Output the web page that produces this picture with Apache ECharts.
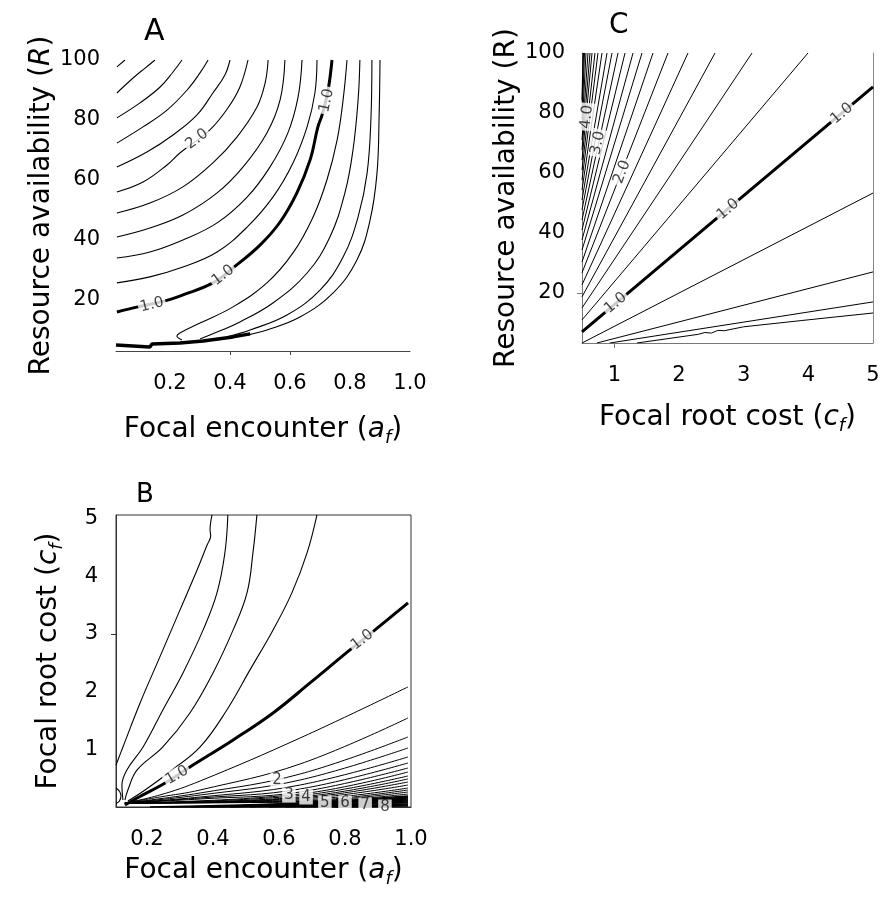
<!DOCTYPE html>
<html>
<head>
<meta charset="utf-8">
<title>Contour panels A, B, C</title>
<script src="https://cdn.jsdelivr.net/npm/echarts@6/dist/echarts.min.js"></script>
<style>
  html, body { margin: 0; padding: 0; background: #fff; }
  #chart { width: 883px; height: 901px; }
</style>
</head>
<body>
<div id="chart"></div>
<script>
// ---------- panel A : focal encounter (a_f) x resource availability (R) ----------
var aTicksX = [0.2, 0.4, 0.6, 0.8, 1.0];
var aTicksY = [20, 40, 60, 80, 100];
// contours above the 1.0 line, outermost (3.0) first
var aUpper = [
  [[0.023, 97.7], [0.05, 100]],
  [[0.023, 89], [0.077, 94], [0.117, 97.3], [0.15, 100]],
  [[0.023, 80.7], [0.1, 85.7], [0.167, 91], [0.21, 96], [0.24, 100]],
  [[0.023, 72.3], [0.11, 77.7], [0.19, 83.3], [0.257, 90], [0.3, 95.7], [0.327, 100]],
  [[0.023, 64.3], [0.123, 69.3], [0.21, 75], [0.29, 81.7], [0.343, 89], [0.383, 95], [0.4, 100]],
  [[0.023, 56], [0.11, 59.3], [0.19, 65], [0.233, 69], [0.333, 76.7], [0.393, 84], [0.433, 91], [0.46, 100]],
  [[0.023, 49], [0.133, 52.3], [0.243, 57.7], [0.343, 65.7], [0.423, 74.3], [0.49, 84.3], [0.517, 92.3], [0.527, 100]],
  [[0.023, 41], [0.133, 44], [0.243, 48.3], [0.357, 55.7], [0.443, 64.3], [0.523, 75.7], [0.567, 86.7], [0.583, 100]],
  [[0.023, 34], [0.133, 36], [0.243, 40], [0.357, 45.7], [0.457, 54.3], [0.533, 64.3], [0.593, 75.7], [0.627, 87.7], [0.64, 100]],
  [[0.023, 25.7], [0.133, 27.7], [0.243, 31], [0.357, 36], [0.457, 44.3], [0.543, 54.3], [0.61, 65.7], [0.657, 77.7], [0.683, 89], [0.69, 100]]
];
var aThick = [[0.023, 16], [0.093, 17.7], [0.183, 19.7], [0.243, 21.7], [0.343, 25.7], [0.41, 30.7], [0.5, 38.3],
  [0.567, 46], [0.623, 55.7], [0.667, 66.7], [0.693, 77.7], [0.707, 81.7], [0.727, 90], [0.74, 100]];
var aLower = [
  [[0.79, 100], [0.777, 86.7], [0.757, 73.3], [0.723, 60], [0.677, 47.7], [0.61, 35.7], [0.523, 25.7], [0.41, 17.7], [0.3, 12.3], [0.233, 9], [0.223, 8], [0.24, 6.7]],
  [[0.833, 100], [0.827, 86.7], [0.81, 70], [0.783, 55.7], [0.733, 41], [0.657, 29], [0.543, 19], [0.433, 12.7], [0.333, 8.3], [0.3, 7]],
  [[0.873, 100], [0.87, 81], [0.857, 62.3], [0.827, 47.7], [0.777, 34.3], [0.7, 23.3], [0.59, 15], [0.467, 10], [0.39, 7.7]],
  [[0.9, 100], [0.897, 81], [0.89, 62.3], [0.867, 46.7], [0.823, 33.3], [0.743, 22.3], [0.633, 14.3], [0.523, 10], [0.457, 8.3]]
];
var aBand = [[0.02, 5], [0.133, 4.3], [0.14, 5.3], [0.233, 5.7], [0.31, 6.3], [0.41, 7.7], [0.467, 8.7]];
var aLabels = [[0.14, 18.4, '1.0'], [0.377, 28.2, '1.0'], [0.722, 86.5, '1.0'], [0.29, 73.6, '2.0']];
var aLabelAngles = [14, 37, 78, 37];

// ---------- panel B : focal encounter (a_f) x focal root cost (c_f) ----------
var bTicksX = [0.2, 0.4, 0.6, 0.8, 1.0];
var bTicksY = [1, 2, 3, 4, 5];
var bUpper = [
  [[0.715, 5.063], [0.685, 4.404], [0.639, 3.711], [0.582, 3.069], [0.512, 2.376], [0.442, 1.682], [0.361, 1.04], [0.276, 0.642], [0.194, 0.295], [0.142, 0.104]],
  [[0.533, 5.063], [0.521, 4.404], [0.503, 3.711], [0.461, 3.069], [0.4, 2.324], [0.33, 1.63], [0.248, 1.04], [0.17, 0.642], [0.142, 0.295], [0.133, 0.121]],
  [[0.445, 5.063], [0.436, 4.404], [0.412, 3.711], [0.37, 3.069], [0.309, 2.324], [0.248, 1.682], [0.188, 1.04], [0.139, 0.642], [0.124, 0.381], [0.127, 0.121]],
  [[0.397, 5.063], [0.391, 4.8], [0.393, 4.7], [0.382, 4.54], [0.352, 4.11], [0.3, 3.416], [0.239, 2.601], [0.179, 1.803], [0.127, 1.04], [0.106, 0.728]],
  [[0.106, 0.33], [0.117, 0.27], [0.121, 0.19], [0.116, 0.1], [0.106, 0.06]]
];
var bThick = [[0.991, 3.537], [0.891, 3.069], [0.815, 2.722], [0.694, 2.15], [0.582, 1.63], [0.461, 1.162], [0.33, 0.694],
  [0.255, 0.416], [0.17, 0.156], [0.133, 0.035]];
var bLower = [
  [[0.133, 0.069], [0.239, 0.208], [0.361, 0.451], [0.664, 1.196], [0.991, 2.081]],
  [[0.133, 0.069], [0.239, 0.173], [0.361, 0.295], [0.664, 0.746], [0.991, 1.543]],
  [[0.133, 0.069], [0.361, 0.243], [0.664, 0.572], [0.991, 1.214]],
  [[0.133, 0.069], [0.361, 0.208], [0.664, 0.468], [0.991, 1.023]],
  [[0.133, 0.069], [0.361, 0.173], [0.664, 0.381], [0.991, 0.867]],
  [[0.133, 0.069], [0.361, 0.156], [0.664, 0.312], [0.991, 0.763]],
  [[0.133, 0.069], [0.361, 0.139], [0.664, 0.26], [0.991, 0.676]],
  [[0.133, 0.069], [0.664, 0.225], [0.991, 0.607]],
  [[0.133, 0.069], [0.664, 0.199], [0.991, 0.538]],
  [[0.133, 0.069], [0.664, 0.173], [0.991, 0.486]],
  [[0.133, 0.069], [0.664, 0.156], [0.991, 0.434]],
  [[0.133, 0.069], [0.664, 0.139], [0.991, 0.381]],
  [[0.133, 0.069], [0.664, 0.121], [0.991, 0.329]],
  [[0.133, 0.069], [0.664, 0.104], [0.991, 0.295]],
  [[0.133, 0.069], [0.664, 0.095], [0.991, 0.26]],
  [[0.133, 0.069], [0.664, 0.087], [0.991, 0.225]]
];
// crowded high-level contours hugging the bottom edge
var bBand = [
  [[0.209, 0], [0.664, 0.069], [0.991, 0.191]],
  [[0.27, 0], [0.664, 0.052], [0.991, 0.173]],
  [[0.33, 0], [0.664, 0.035], [0.991, 0.156]],
  [[0.391, 0], [0.991, 0.139]],
  [[0.452, 0], [0.991, 0.121]],
  [[0.512, 0], [0.991, 0.104]],
  [[0.57, 0], [0.991, 0.087]],
  [[0.62, 0], [0.991, 0.07]],
  [[0.67, 0], [0.991, 0.052]],
  [[0.72, 0], [0.991, 0.035]],
  [[0.77, 0], [0.991, 0.017]]
];
var bLabels = [[0.852, 2.896, '1.0'], [0.291, 0.55, '1.0'], [0.594, 0.468, '2'], [0.63, 0.208, '3'], [0.682, 0.173, '4'],
  [0.739, 0.069, '5'], [0.8, 0.069, '6'], [0.861, 0.035, '7'], [0.921, 0.0, '8']];
var bLabelAngles = [38, 30, 0, 0, 0, 0, 0, 0, 0];

// ---------- panel C : focal root cost (c_f) x resource availability (R) ----------
var cTicksX = [1, 2, 3, 4, 5];
var cTicksY = [20, 40, 60, 80, 100];
var cUpper = [
  [[0.5, 11], [3.995, 100]], [[0.5, 15], [3.129, 100]], [[0.5, 18.7], [2.557, 100]], [[0.5, 22.7], [2.139, 100]],
  [[0.5, 26.7], [1.83, 100]], [[0.5, 30.3], [1.598, 100]], [[0.5, 34.3], [1.428, 100]], [[0.5, 37.7], [1.289, 100]],
  [[0.5, 41], [1.165, 100]], [[0.5, 44.3], [1.057, 100]], [[0.5, 47.7], [0.964, 100]], [[0.5, 51], [0.887, 100]],
  [[0.5, 54.3], [0.809, 100]], [[0.5, 57.7], [0.747, 100]], [[0.5, 61], [0.701, 100]], [[0.5, 64.3], [0.655, 100]],
  [[0.5, 67.7], [0.624, 100]], [[0.5, 71], [0.593, 100]], [[0.5, 74.3], [0.562, 100]], [[0.5, 77.7], [0.539, 100]],
  [[0.5, 81], [0.523, 100]], [[0.5, 84.3], [0.515, 100]]
];
var cThick = [[0.5, 7], [2.6, 45.2], [5, 88.7]];
var cLower = [
  [[0.5, 3.3], [5, 53.3]],
  [[0.73, 3.3], [5, 27]],
  [[0.93, 3.3], [5, 17]],
  [[1.35, 3.3], [2.3, 6.2], [2.4, 6.8], [2.5, 6.6], [2.6, 7.5], [2.7, 7.4], [3.0, 8.7], [3.9, 10.8], [5, 13.3]]
];
var cLabels = [[1.02, 16.6, '1.0'], [2.758, 47.9, '1.0'], [4.52, 79.8, '1.0'], [1.119, 60.3, '2.0'], [0.747, 70, '3.0'], [0.577, 78.7, '4.0']];
var cLabelAngles = [40, 40, 40, 69, 78, 84];

var FONT = 'DejaVu Sans';
var nameRich = {
  t: { fontFamily: FONT, fontSize: 28, lineHeight: 34, color: '#000' },
  i: { fontFamily: FONT, fontSize: 28, lineHeight: 34, fontStyle: 'italic', color: '#000' },
  s: { fontFamily: FONT, fontSize: 18, lineHeight: 18, fontStyle: 'italic', verticalAlign: 'bottom', color: '#000' }
};
var tickFont = { fontFamily: FONT, fontSize: 21, color: '#000' };

var series = [];
function addLines(list, g, width, smooth) {
  list.forEach(function (pts) {
    series.push({
      type: 'line', xAxisIndex: g, yAxisIndex: g, data: pts, symbol: 'none',
      smooth: smooth, lineStyle: { color: '#000', width: width }, silent: true, z: 2
    });
  });
}
function addLabels(list, angles, g, size) {
  series.push({
    type: 'scatter', xAxisIndex: g, yAxisIndex: g, symbolSize: 1, clip: false, silent: true, z: 5,
    itemStyle: { color: 'rgba(0,0,0,0)' },
    data: list.map(function (d, k) { return { value: [d[0], d[1]], name: d[2], label: { rotate: angles[k] } }; }),
    label: {
      show: true, position: 'inside', formatter: '{b}', fontFamily: FONT, fontSize: size,
      color: '#111', backgroundColor: '#fff', padding: [0, 2]
    }
  });
}

addLines(aUpper, 0, 1.1, 0.4);
addLines([aThick], 0, 3, 0.4);
addLines(aLower, 0, 1.1, 0.4);
addLines([aBand], 0, 3.5, false);
addLabels(aLabels, aLabelAngles, 0, 15);

addLines(bUpper, 1, 1.1, 0.4);
addLines([bThick], 1, 3, 0.4);
addLines(bLower, 1, 1, 0.4);
addLines(bBand, 1, 1.3, 0.3);
addLabels(bLabels, bLabelAngles, 1, 15);

addLines(cUpper, 2, 1, false);
addLines([cThick], 2, 3, false);
addLines(cLower, 2, 1, false);
addLabels(cLabels, cLabelAngles, 2, 15);

var option = {
  backgroundColor: '#fff',
  animation: false,
  title: [
    { text: 'A', left: 139, top: 12, textStyle: { fontFamily: FONT, fontSize: 30, fontWeight: 'normal', color: '#000' } },
    { text: 'B', left: 131, top: 477, textStyle: { fontFamily: FONT, fontSize: 26, fontWeight: 'normal', color: '#000' } },
    { text: 'C', left: 604, top: 7, textStyle: { fontFamily: FONT, fontSize: 28, fontWeight: 'normal', color: '#000' } }
  ],
  grid: [
    { left: 116, top: 60, width: 294, height: 291 },
    { left: 116, top: 515, width: 295, height: 292, show: true, borderColor: '#333', borderWidth: 1 },
    { left: 582, top: 53, width: 291, height: 290 }
  ],
  xAxis: [
    {
      gridIndex: 0, type: 'value', min: 0.02, max: 1.0,
      axisLine: { show: true, lineStyle: { color: '#444' } },
      axisTick: { show: true, customValues: [0.4, 0.6], length: 4, lineStyle: { color: '#444' } },
      axisLabel: Object.assign({ customValues: aTicksX, margin: 22, formatter: function (v) { return v.toFixed(1); } }, tickFont),
      splitLine: { show: false },
      name: '{t|Focal encounter (}{i|a}{s|f}{t|)}', nameLocation: 'middle', nameGap: 62,
      nameTextStyle: { rich: nameRich }
    },
    {
      gridIndex: 1, type: 'value', min: 0.106, max: 1.0,
      axisLine: { show: true, lineStyle: { color: '#333' } },
      axisTick: { show: false },
      axisLabel: Object.assign({ customValues: bTicksX, margin: 22, formatter: function (v) { return v.toFixed(1); } }, tickFont),
      splitLine: { show: false },
      name: '{t|Focal encounter (}{i|a}{s|f}{t|)}', nameLocation: 'middle', nameGap: 47,
      nameTextStyle: { rich: nameRich }
    },
    {
      gridIndex: 2, type: 'value', min: 0.5, max: 5,
      axisLine: { show: true, lineStyle: { color: '#777' } },
      axisTick: { show: true, customValues: [1], length: 5, lineStyle: { color: '#777' } },
      axisLabel: Object.assign({ customValues: cTicksX, margin: 22 }, tickFont),
      splitLine: { show: false },
      name: '{t|Focal root cost (}{i|c}{s|f}{t|)}', nameLocation: 'middle', nameGap: 58,
      nameTextStyle: { rich: nameRich }
    }
  ],
  yAxis: [
    {
      gridIndex: 0, type: 'value', min: 3, max: 100,
      axisLine: { show: false }, axisTick: { show: false },
      axisLabel: Object.assign({ customValues: aTicksY, margin: 16 }, tickFont),
      splitLine: { show: false },
      name: '{t|Resource availability (}{i|R}{t|)}', nameLocation: 'middle', nameGap: 57,
      nameTextStyle: { rich: nameRich }
    },
    {
      gridIndex: 1, type: 'value', min: 0, max: 5.06,
      axisLine: { show: true, lineStyle: { color: '#333' } },
      axisTick: { show: true, customValues: [3], length: 5, lineStyle: { color: '#333' } },
      axisLabel: Object.assign({ customValues: bTicksY, margin: 18 }, tickFont),
      splitLine: { show: false },
      name: '{t|Focal root cost (}{i|c}{s|f}{t|)}', nameLocation: 'middle', nameGap: 50,
      nameTextStyle: { rich: nameRich }
    },
    {
      gridIndex: 2, type: 'value', min: 3.3, max: 100,
      axisLine: { show: true, lineStyle: { color: '#777' } },
      axisTick: { show: true, customValues: [20], length: 5, lineStyle: { color: '#777' } },
      axisLabel: Object.assign({ customValues: cTicksY, margin: 17 }, tickFont),
      splitLine: { show: false },
      name: '{t|Resource availability (R)}', nameLocation: 'middle', nameGap: 51,
      nameTextStyle: { rich: nameRich }
    },
    {
      gridIndex: 2, type: 'value', min: 3.3, max: 100, position: 'right',
      axisLine: { show: true, lineStyle: { color: '#888' } },
      axisTick: { show: false }, axisLabel: { show: false }, splitLine: { show: false }
    }
  ],
  series: series
};

var chart = echarts.init(document.getElementById('chart'), null, { renderer: 'canvas' });
chart.setOption(option);
window.addEventListener('resize', chart.resize);
</script>
</body>
</html>
